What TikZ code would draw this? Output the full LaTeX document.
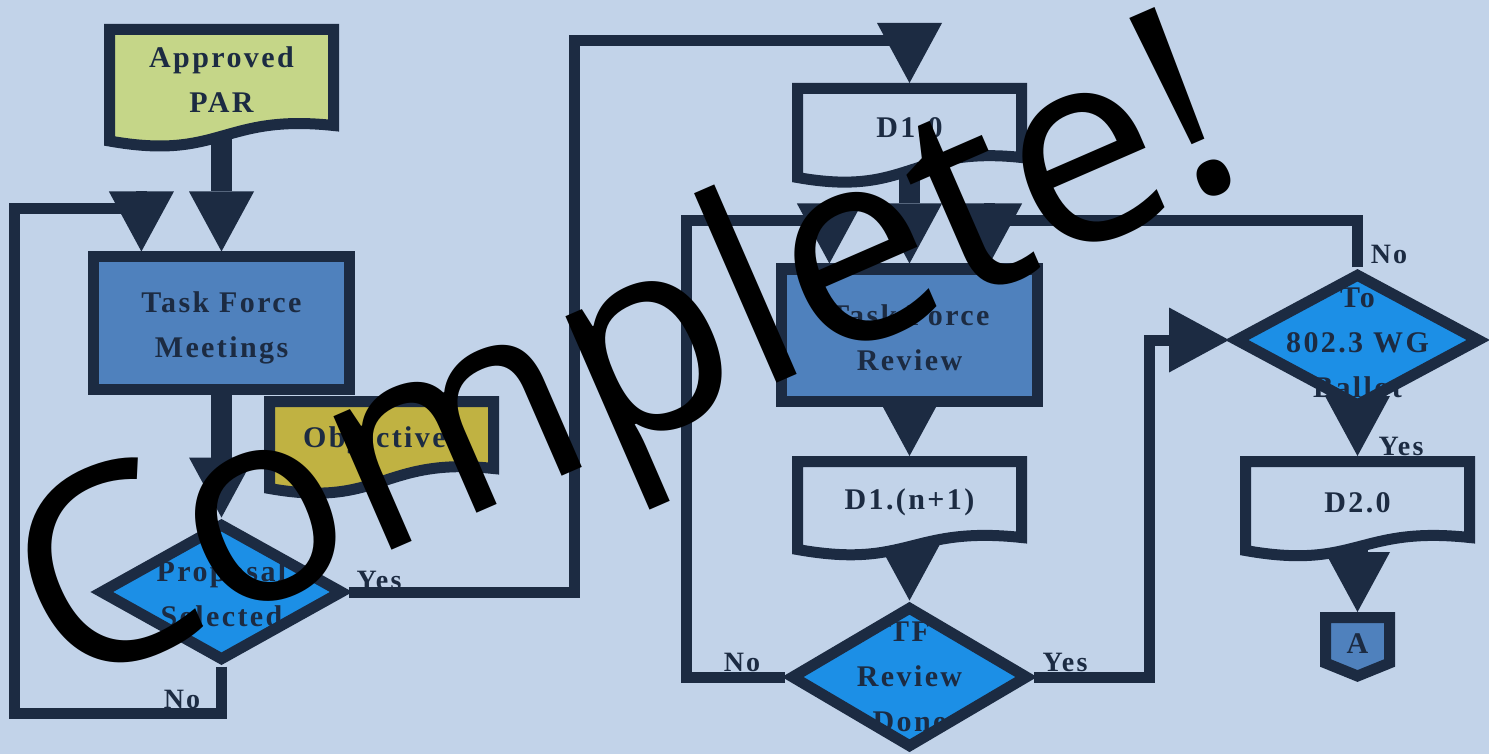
\documentclass[tikz,border=0pt]{standalone}
\usepackage{fontspec}
\setmainfont{Liberation Serif}
\newfontfamily\flowfont[LetterSpace=8]{Liberation Serif}
\newfontfamily\stampfont{Open Sans}
\usetikzlibrary{arrows.meta,shapes.geometric,calc}
\definecolor{bgc}{RGB}{194,211,233}
\definecolor{ink}{RGB}{28,43,66}
\definecolor{parc}{RGB}{197,214,136}
\definecolor{objc}{RGB}{192,178,66}
\definecolor{taskc}{RGB}{79,129,189}
\definecolor{decc}{RGB}{28,143,230}
\pgfdeclarelayer{bg}
\pgfdeclarelayer{connect}
\pgfdeclarelayer{shapes}
\pgfsetlayers{bg,connect,shapes,main}
\tikzset{
  nodetext/.style={font=\flowfont\bfseries\fontsize{30}{45}\selectfont, text=ink, align=center},
  flowlabel/.style={font=\flowfont\bfseries\fontsize{28}{34}\selectfont, text=ink, inner sep=0pt},
  procbox/.style={rectangle, draw=ink, fill=taskc, line width=11pt, minimum width=256pt, minimum height=132pt, inner sep=0pt},
  docbox/.style={rectangle, line width=11pt, minimum width=224pt, inner sep=0pt},
  decision/.style={diamond, draw=ink, fill=decc, line width=11pt, inner sep=0pt},
  docline/.style={draw=ink, line width=11pt, line join=miter},
  flow/.style={draw=ink, line width=11pt, -{Triangle[length=60pt,width=65pt,line width=0pt]}},
  bigflow/.style={flow, line width=21pt},
}
\newcommand\docoutline[3]{%
  \begin{pgfonlayer}{shapes}
    \path[docline, fill=#2]
      ($(#1.north west)+(5.5,5.5)$) -- ($(#1.north east)+(-5.5,5.5)$)
      -- ($(#1.south east)+(-5.5,-5.5)$)
      .. controls ($(#1.south)+(0,-17.5)$) and ($(#1.south)+(0,#3+14.5)$)
      .. ($(#1.south west)+(5.5,#3-5.5)$) -- cycle;
  \end{pgfonlayer}}
\begin{document}
\begin{tikzpicture}[x=1pt, y=-1pt]
\useasboundingbox (0,0) rectangle (1489,754);
\begin{pgfonlayer}{bg}
  \fill[bgc] (0,0) rectangle (1489,754);
\end{pgfonlayer}

% ---- nodes ----
\node[docbox, minimum height=96pt, label={[name=part, nodetext, yshift=-2pt]center:Approved\\PAR}] (par) at (221.5,77.5) {};
\node[procbox, label={[name=tfmt, nodetext, yshift=-5pt]center:Task Force\\Meetings}] (tfm) at (221.5,323) {};
\node[docbox, minimum height=67pt, label={[name=objt, nodetext, yshift=-5pt]center:Objectives}] (obj) at (381.5,435) {};
\node[decision, minimum width=244pt, minimum height=138pt, label={[name=pst, nodetext, yshift=-2pt]center:Proposal\\Selected}] (ps) at (221.5,592) {};
\node[docbox, minimum height=69pt, label={[name=d10t, nodetext, yshift=-5pt]center:D1.0}] (d10) at (909.5,123) {};
\node[procbox, label={[name=tfrt, nodetext, yshift=-3pt]center:Task Force\\Review}] (tfr) at (909.5,335) {};
\node[docbox, minimum height=76pt, label={[name=d1nt, nodetext, yshift=-3pt]center:D1.(n+1)}] (d1n) at (909.5,499.5) {};
\node[decision, minimum width=238pt, minimum height=142pt, label={[name=tfrdt, nodetext]center:TF\\Review\\Done}] (tfrd) at (909.5,677) {};
\node[decision, minimum width=246pt, minimum height=134pt, label={[name=tot, nodetext, yshift=-3pt]center:To\\802.3 WG\\Ballot}] (to) at (1357.5,340) {};
\node[docbox, minimum height=76pt, label={[name=d20t, nodetext, yshift=-3pt]center:D2.0}] (d20) at (1357.5,499.5) {};
\node[rectangle, line width=11pt, minimum width=64pt, minimum height=45.5pt, inner sep=0pt, label={[name=at, nodetext, yshift=-3pt]center:A}] (a) at (1357.5,640.25) {};

% ---- shapes drawn from node anchors ----
\docoutline{par}{parc}{15.5}
\docoutline{obj}{objc}{20}
\docoutline{d10}{bgc}{20}
\docoutline{d1n}{bgc}{12}
\docoutline{d20}{bgc}{13}
\begin{pgfonlayer}{shapes}
  \path[docline, fill=taskc]
    ($(a.north west)+(5.5,5.5)$) -- ($(a.north east)+(-5.5,5.5)$)
    -- ($(a.south east)+(-5.5,-5.5)$) -- ($(a.south)+(0,7.5)$)
    -- ($(a.south west)+(5.5,-5.5)$) -- cycle;
\end{pgfonlayer}

% ---- connector labels ----
\node[flowlabel] (yes1) at (379,580) {Yes};
\node[flowlabel] (no1) at (182,699) {No};
\node[flowlabel] (no2) at (742,662) {No};
\node[flowlabel] (yes2) at (1065,662) {Yes};
\node[flowlabel] (no3) at (1389,254) {No};
\node[flowlabel] (yes3) at (1401,446) {Yes};

% ---- connectors ----
\coordinate (c1) at (574,41);
\coordinate (c2) at (14,713);
\coordinate (c3) at (14,209);
\coordinate (c4) at (686,221);
\coordinate (c5) at (1149,340);
\begin{pgfonlayer}{connect}
  \draw[bigflow] (par.south) -- (tfm.north);
  \draw[bigflow] (tfm.south) -- (ps.north);
  \draw[flow] (ps.east) -| (c1) -| (d10.north);
  \draw[flow] (ps.south) |- (c2) -- (c3) -| ($(tfm.north west)!0.2!(tfm.north east)$);
  \draw[bigflow] (d10.south) -- (tfr.north);
  \draw[bigflow] (tfr.south) -- (d1n.north);
  \draw[bigflow] (d1n.south) -- (tfrd.north);
  \draw[flow] (tfrd.west) -| (c4) -| ($(tfr.north west)!0.2!(tfr.north east)$);
  \draw[flow] (tfrd.east) -| (c5) -- (to.west);
  \draw[flow] (to.north) -- (to.north |- c4) -| ($(tfr.north west)!0.8!(tfr.north east)$);
  \draw[bigflow] (to.south) -- (d20.north);
  \draw[bigflow] (d20.south) -- (a.north);
\end{pgfonlayer}

% ---- overlay ----
\node[anchor=base west, rotate=23.5, inner sep=0pt, text=black,
      font=\stampfont\fontsize{272}{300}\selectfont] (stamp) at (62,694) {Complete!};
\end{tikzpicture}
\end{document}
